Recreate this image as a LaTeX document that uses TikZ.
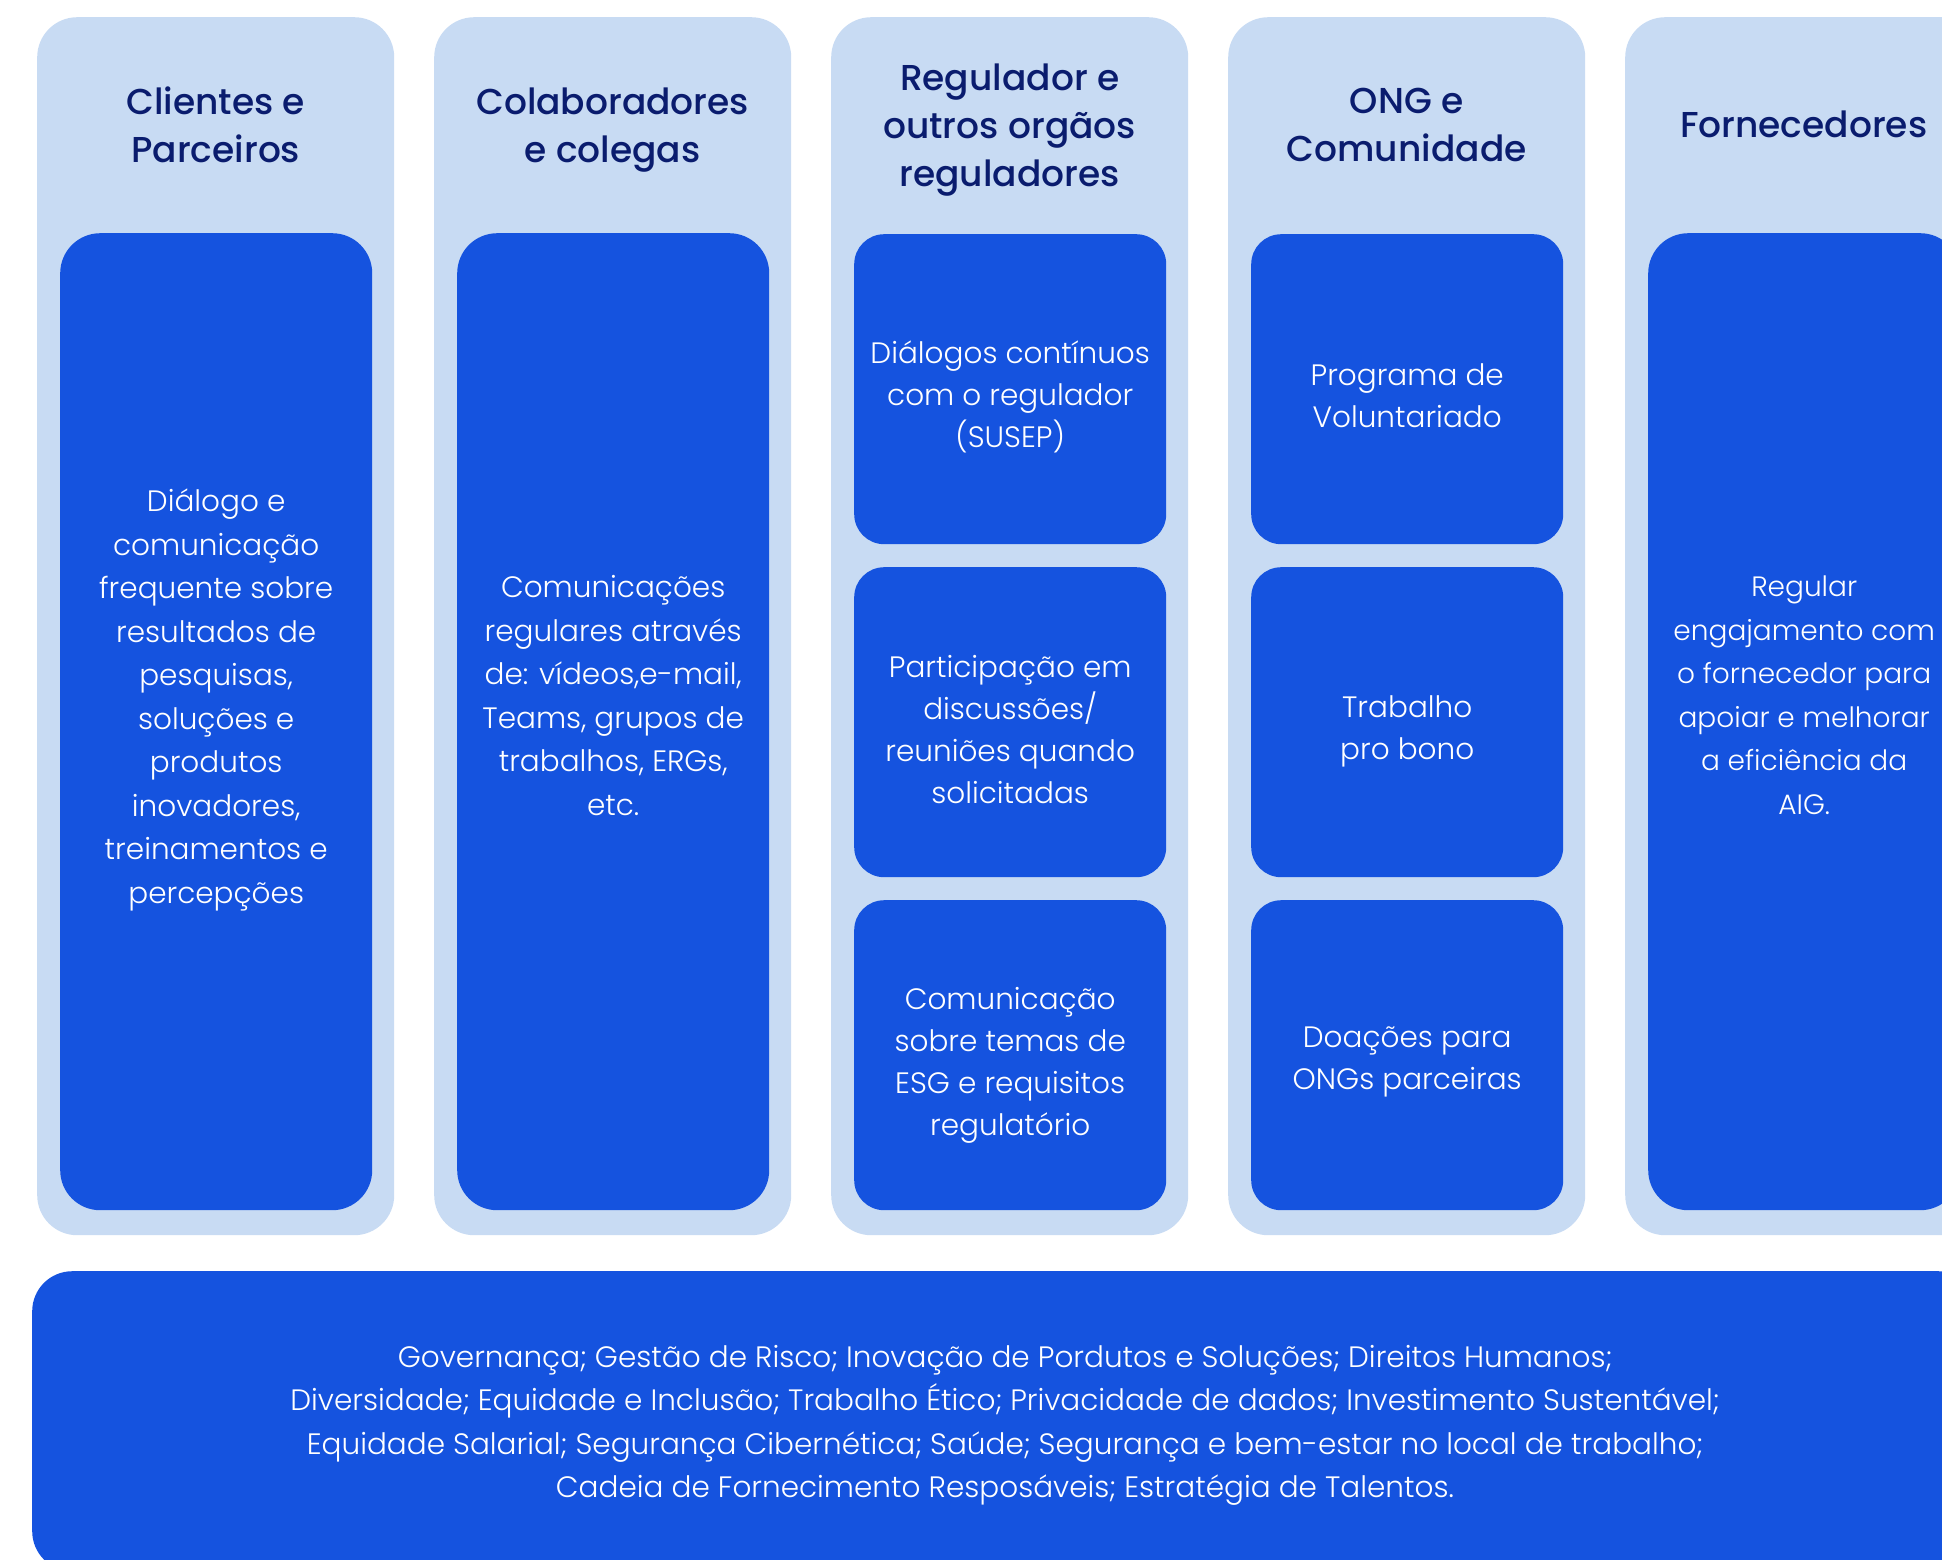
\documentclass[tikz,border=0pt]{standalone}
\usepackage{fontspec}
\setmainfont{Poppins Light}
\newfontfamily\titulofonte{Poppins Medium}

\definecolor{azulclaro}{RGB}{200,219,243}
\definecolor{azul}{RGB}{21,83,223}
\definecolor{marinho}{RGB}{10,28,110}

\tikzset{
    coluna/.style={fill=azulclaro, rounded corners=40pt, inner sep=0pt,
        minimum width=357pt, minimum height=1218pt, anchor=north west},
    caixa/.style={fill=azul, rounded corners=40pt, inner sep=0pt,
        minimum width=312pt, minimum height=977pt, anchor=north west},
    caixinha/.style={fill=azul, rounded corners=30pt, inner sep=0pt,
        minimum width=312pt, minimum height=310pt, anchor=north west},
    apoio/.style={execute at begin node=\strut, execute at end node=\strut},
    titulo/.style={apoio, text=marinho, align=center,
        font=\titulofonte\fontsize{36}{48}\selectfont},
    texto/.style={apoio, text=white, align=center,
        font=\fontsize{29.5}{43.5}\selectfont},
    textinho/.style={texto, font=\fontsize{29.5}{42}\selectfont},
}

\begin{document}
\begin{tikzpicture}[x=1pt, y=-1pt]
    \clip (0, 0) rectangle (1942, 1559);

    % colunas
    \foreach \i/\nome in {0/clientes, 1/colaboradores, 2/regulador, 3/ong, 4/fornecedores} {
        \node [coluna] (\nome) at (37+397*\i, 17) {};
    }
    \draw
        (clientes.north) ++(0, 115) node [titulo] (tclientes) {Clientes e\\Parceiros}
        (colaboradores.north) ++(0, 115) node [titulo] (tcolaboradores) {Colaboradores\\e colegas}
        (regulador.north) ++(0, 115) node [titulo] (tregulador) {Regulador e\\outros orgãos\\reguladores}
        (ong.north) ++(0, 115) node [titulo] (tong) {ONG e\\Comunidade}
        (fornecedores.north) ++(0, 111) node [titulo] (tfornecedores) {Fornecedores}
    ;

    % caixas altas
    \node [caixa] (cxclientes) at (60, 233) {};
    \node [caixa] (cxcolaboradores) at (457, 233) {};
    \node [caixa] (cxfornecedores) at (1648, 233) {};
    \node [texto] (txclientes) at ([yshift=19pt]cxclientes.center)
        {Diálogo e\\comunicação\\frequente sobre\\resultados de\\pesquisas,\\soluções e\\produtos\\inovadores,\\treinamentos e\\percepções};
    \node [texto] (txcolaboradores) at ([yshift=20pt]cxcolaboradores.center)
        {Comunicações\\regulares através\\de: vídeos,e-mail,\\Teams, grupos de\\trabalhos, ERGs,\\etc.};
    \node [texto, font=\fontsize{28}{43.5}\selectfont] (txfornecedores) at ([yshift=20pt]cxfornecedores.center)
        {Regular\\engajamento com\\o fornecedor para\\apoiar e melhorar\\a eficiência da\\AIG.};

    % caixas pequenas
    \foreach \j in {0, 1, 2} {
        \node [caixinha] (reg\j) at (854, 234+333*\j) {};
        \node [caixinha] (ong\j) at (1251, 234+333*\j) {};
    }
    \node [textinho] at ([yshift=-11pt]reg0.center) {Diálogos contínuos\\com o regulador\\(SUSEP)};
    \node [textinho] at ([yshift=-13pt]reg1.center) {Participação em\\discussões/\\reuniões quando\\solicitadas};
    \node [textinho] at ([yshift=-12pt]reg2.center) {Comunicação\\sobre temas de\\ESG e requisitos\\regulatório};
    \node [textinho] at ([yshift=-13pt]ong0.center) {Programa de\\Voluntariado};
    \node [textinho] at ([yshift=-12pt]ong1.center) {Trabalho\\pro bono};
    \node [textinho] at ([yshift=-9pt]ong2.center) {Doações para\\ONGs parceiras};

    % faixa de temas
    \node [fill=azul, rounded corners=40pt, inner sep=0pt, anchor=north west,
        minimum width=1946pt, minimum height=300pt] (faixa) at (32, 1271) {};
    \node [texto] (temas) at (1005, 1428)
        {Governança; Gestão de Risco; Inovação de Pordutos e Soluções; Direitos Humanos;\\
        Diversidade; Equidade e Inclusão; Trabalho Ético; Privacidade de dados; Investimento Sustentável;\\
        Equidade Salarial; Segurança Cibernética; Saúde; Segurança e bem-estar no local de trabalho;\\
        Cadeia de Fornecimento Resposáveis; Estratégia de Talentos.};
\end{tikzpicture}
\end{document}
